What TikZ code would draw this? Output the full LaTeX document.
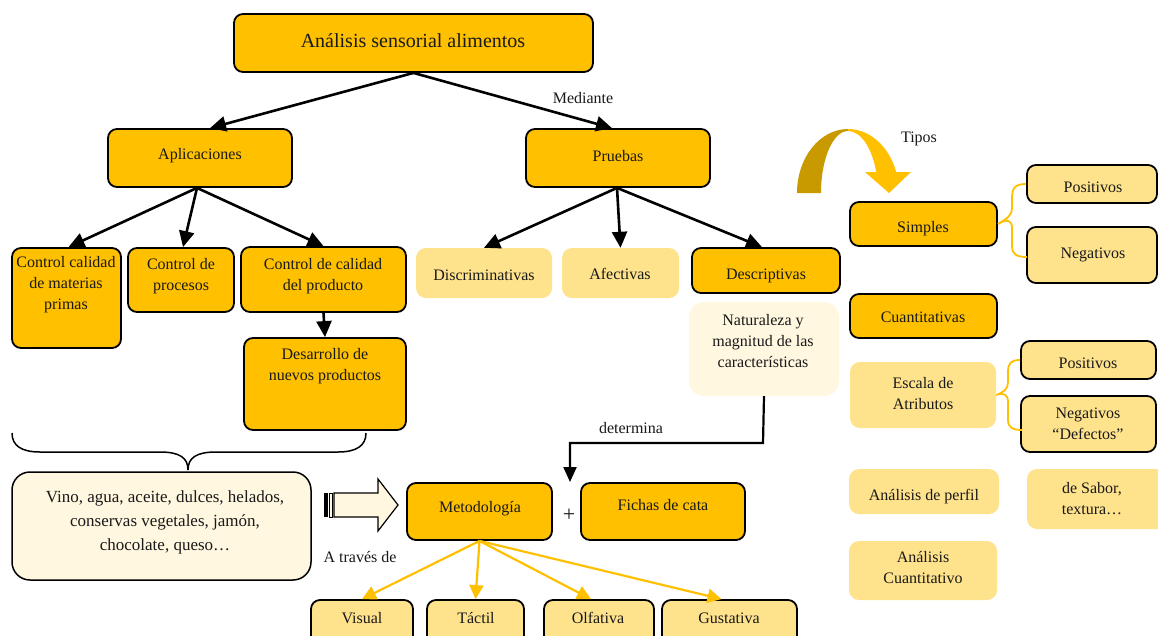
\documentclass[tikz,border=0pt]{standalone}
\usepackage{fontspec}
\setmainfont{Liberation Serif}
\usetikzlibrary{arrows.meta,fit,calc}
\definecolor{gold}{HTML}{FFC000}
\definecolor{lightgold}{HTML}{FFE38C}
\definecolor{cream}{HTML}{FFF7E0}
\definecolor{darkgold}{HTML}{C99A00}
\begin{document}
\begin{tikzpicture}[x=1pt,y=-1pt,
  dbox/.style={draw=black, line width=1.8pt, fill=gold, rounded corners=9pt, inner sep=0pt},
  lbbox/.style={draw=black, line width=1.8pt, fill=lightgold, rounded corners=9pt, inner sep=0pt},
  lbox/.style={fill=lightgold, rounded corners=10pt, inner sep=0pt},
  cbox/.style={fill=cream, rounded corners=15pt, inner sep=0pt},
  vbox/.style={draw=black, line width=1.5pt, fill=cream, rounded corners=18pt, inner sep=0pt},
  txt/.style={font=\fontsize{16}{21}\selectfont, align=center, inner sep=0pt, text=black!90},
  arr/.style={line width=2.6pt, -{Triangle[length=16pt,width=15pt]}},
  yarr/.style={draw=gold, line width=2.2pt, -{Triangle[length=14pt,width=14pt]}},
  ybrace/.style={draw=gold, line width=1.8pt},
]
\useasboundingbox (0,0) rectangle (1158,635);
\fill[white] (0,0) rectangle (1158,635);

% ---------- top ----------
\node[dbox, fit={(234,14)(593,72)}] (tit) {};
\node[txt, font=\fontsize{20}{24}\selectfont] (tit-t) at (413,41) {Análisis sensorial alimentos};
\node[dbox, fit={(108,129)(292,187)}] (apl) {};
\node[txt] (apl-t) at (200,156) {Aplicaciones};
\node[dbox, fit={(526,129)(710,187)}] (prue) {};
\node[txt] (prue-t) at (618,156) {Pruebas};
\draw[arr] (tit.south) -- ([xshift=10pt]apl.north);
\draw[arr] (tit.south) -- ([xshift=-6pt]prue.north);
\node[txt] (med) at (583,98) {Mediante};

% ---------- aplicaciones ----------
\node[dbox, fit={(12,248)(121,348)}] (ccmp) {};
\node[txt] (ccmp-t) at (66,285) {Control calidad\\de materias\\primas};
\node[dbox, fit={(128,248)(234,312)}] (cproc) {};
\node[txt] (cproc-t) at (181,276) {Control de\\procesos};
\node[dbox, fit={(241,247)(406,312)}] (ccprod) {};
\node[txt] (ccprod-t) at (323,276) {Control de calidad\\del producto};
\node[dbox, fit={(244,338)(406,430)}] (desa) {};
\node[txt] (desa-t) at (325,366) {Desarrollo de\\nuevos productos};
\draw[arr] ([xshift=-3pt]apl.south) -- ([xshift=2pt]ccmp.north);
\draw[arr] ([xshift=-3pt]apl.south) -- ([xshift=2pt]cproc.north);
\draw[arr] ([xshift=-3pt]apl.south) -- (ccprod.north);
\draw[arr] (ccprod.south) -- (desa.north);

% brace
\draw[line width=1.5pt] (12,433) .. controls (12,446) and (22,452) .. (40,452)
  -- (160,452) .. controls (180,452) and (188,458) .. (188,470)
  .. controls (188,458) and (196,452) .. (216,452)
  -- (338,452) .. controls (356,452) and (366,446) .. (366,433);

% vino
\node[vbox, fit={(12,472)(311,580)}] (vino) {};
\node[txt, font=\fontsize{17}{24}\selectfont] (vino-t) at (165,522) {Vino, agua, aceite, dulces, helados,\\conservas vegetales, jamón,\\chocolate, queso…};

% striped arrow
\draw[line width=1.2pt, fill=cream] (334,493) -- (378,493) -- (378,479) -- (398,505) -- (378,531) -- (378,517) -- (334,517) -- cycle;
\fill[black] (323.5,493) rectangle (327.5,517);
\draw[line width=1pt, fill=cream] (329,493) rectangle (332.5,517);
\node[txt] (atr) at (360,557) {A través de};

% metodologia
\node[dbox, fit={(407,483)(552,540)}] (meto) {};
\node[txt] (meto-t) at (480,509) {Metodología};
\node[txt, font=\fontsize{22}{24}\selectfont] (plus) at (569,515) {+};
\node[dbox, fit={(581,483)(745,540)}] (fich) {};
\node[txt] (fich-t) at (663,505) {Fichas de cata};

% bottom senses
\node[lbbox, fit={(311,600)(413,645)}] (vis) {};
\node[txt] (vis-t) at (362,618) {Visual};
\node[lbbox, fit={(427,600)(524,645)}] (tac) {};
\node[txt] (tac-t) at (476,618) {Táctil};
\node[lbbox, fit={(544,600)(654,645)}] (olf) {};
\node[txt] (olf-t) at (598,618) {Olfativa};
\node[lbbox, fit={(662,600)(797,645)}] (gus) {};
\node[txt] (gus-t) at (729,618) {Gustativa};
\draw[yarr] (meto.south) -- (vis.north);
\draw[yarr] (meto.south) -- (tac.north);
\draw[yarr] (meto.south) -- ([xshift=-8pt]olf.north);
\draw[yarr] (meto.south) -- ([xshift=-8pt]gus.north);

% ---------- pruebas ----------
\node[lbox, fit={(416,248)(552,298)}] (disc) {};
\node[txt] (disc-t) at (484,275) {Discriminativas};
\node[lbox, fit={(562,248)(679,298)}] (afec) {};
\node[txt] (afec-t) at (620,274) {Afectivas};
\node[dbox, fit={(692,248)(840,293)}] (desc) {};
\node[txt] (desc-t) at (766,276) {Descriptivas};
\draw[arr] ([xshift=-1pt]prue.south) -- (disc.north);
\draw[arr] ([xshift=-1pt]prue.south) -- (afec.north);
\draw[arr] ([xshift=-1pt]prue.south) -- ([xshift=-4pt]desc.north);
\node[cbox, fit={(689,302)(839,396)}] (nat) {};
\node[txt] (nat-t) at (763,341) {Naturaleza y\\magnitud de las\\características};
\coordinate (detend) at (570,482);
\draw[line width=2.2pt, -{Triangle[length=15pt,width=13pt]}] (nat.south) -- (763,443) -| (detend);
\node[txt] (det) at (631,428) {determina};

% ---------- tipos ----------
\fill[darkgold] (797,193) arc[start angle=180, end angle=270, x radius=51, y radius=64]
  -- (848,131) arc[start angle=270, end angle=180, x radius=27, y radius=62] -- cycle;
\fill[gold] (848,129) arc[start angle=270, end angle=340.85, x radius=51, y radius=64]
  -- (911,172) -- (889,193) -- (865,172) -- (876.2,172)
  arc[start angle=340.2, end angle=270, x radius=30, y radius=62] -- cycle;
\node[txt] (tipos) at (919,139) {Tipos};

\node[dbox, fit={(850,202)(997,246)}] (simp) {};
\node[txt] (simp-t) at (923,229) {Simples};
\node[lbbox, fit={(1027,165)(1157,203)}] (pos1) {};
\node[txt] (pos1-t) at (1093,187) {Positivos};
\node[lbbox, fit={(1027,227)(1157,283)}] (neg1) {};
\node[txt] (neg1-t) at (1093,255) {Negativos};
\draw[ybrace] (pos1.west) .. controls (1015,184) and (1012,188) .. (1012,198) -- (1012,208)
  .. controls (1012,215) and (1008,218) .. (simp.east)
  .. controls (1008,218) and (1012,221) .. (1012,228) -- (1012,246)
  .. controls (1012,254) and (1016,257) .. (1027,257);

\node[dbox, fit={(850,294)(997,338)}] (cuan) {};
\node[txt] (cuan-t) at (923,317) {Cuantitativas};

\node[lbox, fit={(850,362)(996,428)}] (esc) {};
\node[txt] (esc-t) at (923,394) {Escala de\\Atributos};
\node[lbbox, fit={(1021,341)(1156,379)}] (pos2) {};
\node[txt] (pos2-t) at (1088,363) {Positivos};
\node[lbbox, fit={(1021,396)(1156,452)}] (neg2) {};
\node[txt] (neg2-t) at (1088,424) {Negativos\\“Defectos”};
\draw[ybrace] (pos2.west) .. controls (1011,360) and (1008,363) .. (1008,372) -- (1008,382)
  .. controls (1008,389) and (1004,392) .. (esc.east)
  .. controls (1004,392) and (1008,395) .. (1008,402) -- (1008,420)
  .. controls (1008,427) and (1012,430) .. (1022,430);

\node[lbox, fit={(849,469)(999,514)}] (perf) {};
\node[txt] (perf-t) at (924,497) {Análisis de perfil};
\node[lbox, fit={(1027,469)(1170,529)}] (sab) {};
\node[txt] (sab-t) at (1092,499) {de Sabor,\\textura…};
\node[lbox, fit={(849,541)(997,600)}] (acuan) {};
\node[txt] (acuan-t) at (923,568) {Análisis\\Cuantitativo};
\end{tikzpicture}
\end{document}
